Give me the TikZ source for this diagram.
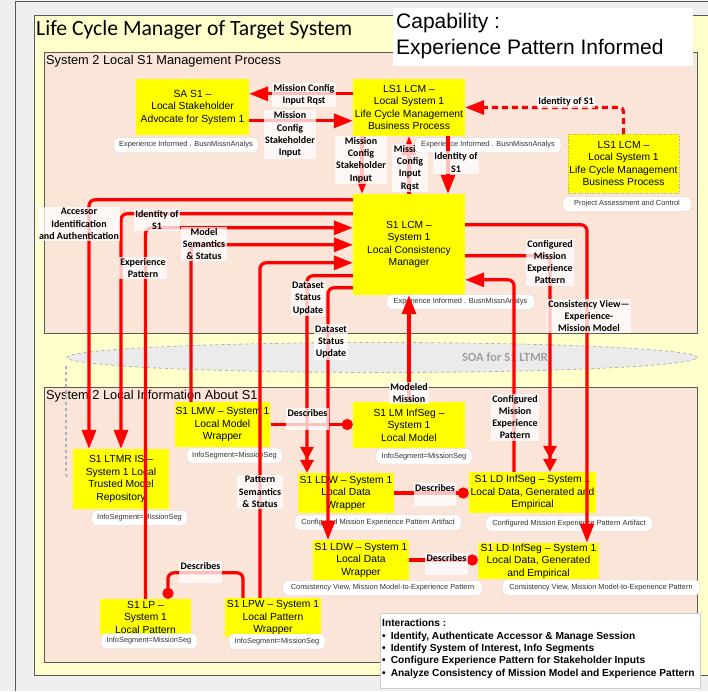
\documentclass[tikz,border=0pt]{standalone}
\usepackage{fontspec}
\setmainfont{Liberation Sans}
\newfontfamily\calfont{Carlito}
\usetikzlibrary{arrows.meta}

\definecolor{redline}{HTML}{FF0000}
\definecolor{boxyellow}{HTML}{FFFF00}
\definecolor{peach}{HTML}{FBE5D8}
\definecolor{paleyellow}{HTML}{FFFFCC}
\definecolor{outergray}{HTML}{EFEFEF}
\definecolor{framegray}{HTML}{595959}
\definecolor{busgray}{HTML}{EBEBEB}

\begin{document}
\begin{tikzpicture}[x=1pt,y=-1pt,
  comp/.style={fill=boxyellow, draw=none, align=center, inner sep=1pt,
    font=\fontsize{10.3}{12.5}\selectfont},
  info/.style={fill=white, draw=gray!35, rounded corners=4pt, inner xsep=3pt,
    minimum height=15pt, text=black!80, font=\fontsize{7.4}{9}\selectfont},
  flow/.style={draw=redline, line width=3.2pt, rounded corners=6pt,
    -{Triangle[length=19pt,width=14pt]}},
  flowtwo/.style={draw=redline, line width=3.2pt, rounded corners=6pt,
    -{Triangle[length=13pt,width=13pt]Triangle[length=13pt,width=13pt]}},
  desc/.style={draw=redline, line width=3.2pt, rounded corners=6pt,
    -{Circle[length=11pt]}},
  lab/.style={fill=white, fill opacity=0.75, text opacity=1, align=center,
    inner sep=1.5pt, font=\calfont\bfseries\fontsize{10}{12.3}\selectfont},
  paneltitle/.style={anchor=base west, inner sep=0pt,
    font=\fontsize{12.8}{15}\selectfont},
]
\useasboundingbox (0,0) rectangle (708,691);

% background, frame and panels
\fill[outergray] (0,0) rectangle (708,691);
\draw[framegray, line width=0.8pt] (15,691) -- (15,1) -- (708,1);
\filldraw[fill=paleyellow, draw=framegray, line width=0.8pt] (34,15) rectangle (712,675);
\node[anchor=base west, inner sep=0pt, font=\calfont\fontsize{21.7}{24}\selectfont]
  (title) at (36,35) {Life Cycle Manager of Target System};

\filldraw[fill=peach, draw=framegray, line width=0.8pt] (44,52) rectangle (697,333);
\node[paneltitle] (mgtitle) at (46,64.5) {System 2 Local S1 Management Process};

% capability caption, lying over the process panel
\fill[white] (393,8) rectangle (693,66);
\node[anchor=north west, align=left, inner sep=0pt, font=\fontsize{21}{25.5}\selectfont]
  (cap) at (396,13.5) {Capability :\\Experience Pattern Informed};

% service bus
\filldraw[fill=busgray, draw=gray!60, dashed, line width=0.8pt]
  (382,357.5) ellipse [x radius=315pt, y radius=15pt];
\node[text=gray!75, font=\calfont\bfseries\fontsize{12.5}{14}\selectfont]
  (soa) at (505,357) {SOA for S1 LTMR};

\filldraw[fill=peach, draw=framegray, line width=0.8pt] (44,387) rectangle (697,662);
\node[paneltitle] (inftitle) at (46,399) {System 2 Local Information About S1};
\draw[gray!60, dashed, line width=1.6pt] (66,366) -- (66,472) .. controls (66,476) .. (69,478);

% components
\node[comp, minimum width=113pt, minimum height=56pt] (sa) at (192.5,107)
  {SA S1 --\\Local Stakeholder\\Advocate for System 1};
\node[comp, minimum width=112pt, minimum height=57pt] (ls1top) at (409,107.5)
  {LS1 LCM --\\Local System 1\\Life Cycle Management\\Business Process};
\node[comp, draw=gray!70, dotted, minimum width=111pt, minimum height=59pt] (ls1right) at (623.5,163.5)
  {LS1 LCM --\\Local System 1\\Life Cycle Management\\Business Process};
\node[comp, minimum width=112pt, minimum height=101pt] (lcm) at (409,244.5)
  {S1 LCM --\\System 1\\Local Consistency\\Manager};
\node[comp, minimum width=95pt, minimum height=45pt] (lmw) at (222.5,424.5)
  {S1 LMW -- System 1\\Local Model\\Wrapper};
\node[comp, minimum width=112pt, minimum height=46pt] (lminf) at (409,425)
  {S1 LM InfSeg --\\System 1\\Local Model};
\node[comp, minimum width=96pt, minimum height=60pt] (ltmr) at (121,479)
  {S1 LTMR IS --\\System 1 Local\\Trusted Model\\Repository};
\node[comp, minimum width=96pt, minimum height=40pt] (ldw1) at (346,493)
  {S1 LDW -- System 1\\Local Data\\Wrapper};
\node[comp, minimum width=127pt, minimum height=41pt] (ldinf1) at (532.5,492.5)
  {S1 LD InfSeg -- System 1\\Local Data, Generated and\\Empirical};
\node[comp, minimum width=96pt, minimum height=40pt] (ldw2) at (361,560)
  {S1 LDW -- System 1\\Local Data\\Wrapper};
\node[comp, minimum width=121pt, minimum height=36pt] (ldinf2) at (538.5,561)
  {S1 LD InfSeg -- System 1\\Local Data, Generated\\and Empirical};
\node[comp, minimum width=91pt, minimum height=36pt] (lp) at (145.5,617)
  {S1 LP --\\System 1\\Local Pattern};
\node[comp, minimum width=96pt, minimum height=39pt] (lpw) at (273,617.5)
  {S1 LPW -- System 1\\Local Pattern\\Wrapper};

% request from the consistency manager to the business process
\draw[flow] (lcm.north) -- (ls1top.south);
\node[lab] (labD) at (410,168) {Mission\\Config\\Input\\Rqst};

% artefact tags
\node[info, minimum width=144pt] (sai) at (186,145) {Experience Informed . BusnMissnAnalys};
\node[info, minimum width=146pt] (ls1i) at (488,145) {Experience Informed . BusnMissnAnalys};
\node[info, minimum width=128pt] (ls1ri) at (627,204) {Project Assessment and Control};
\node[info, minimum width=147pt] (lcmi) at (460.5,302) {Experience Informed . BusnMissnAnalys};
\node[info, minimum width=95pt] (lmwi) at (234.5,455.5) {InfoSegment=MissionSeg};
\node[info, minimum width=96pt] (lminfi) at (424,456.5) {InfoSegment=MissionSeg};
\node[info, minimum width=95pt] (ltmri) at (139.5,518) {InfoSegment=MissionSeg};
\node[info, minimum width=166pt] (ldw1i) at (378,522.5) {Configured Mission Experience Pattern Artifact};
\node[info, minimum width=166pt] (ldinf1i) at (569,523.5) {Configured Mission Experience Pattern Artifact};
\node[info, minimum width=199pt] (ldw2i) at (382.5,588) {Consistency View, Mission Model-to-Experience Pattern};
\node[info, minimum width=197pt] (ldinf2i) at (601,587.5) {Consistency View, Mission Model-to-Experience Pattern};
\node[info, minimum width=96pt] (lpi) at (149,641) {InfoSegment=MissionSeg};
\node[info, minimum width=96pt] (lpwi) at (277,641.5) {InfoSegment=MissionSeg};

% interactions between the management processes
\draw[flow] ([yshift=-15pt]ls1top.north west) -- ([yshift=-15pt]sa.north east);
\draw[flow] ([yshift=-42pt]sa.north east) -- ([yshift=-42pt]ls1top.north west);
\draw[flow] ([xshift=-47pt]ls1top.south) -- ([xshift=-47pt]lcm.north);
\draw[flow] ([xshift=39pt]ls1top.south) -- ([xshift=39pt]lcm.north);
\draw[flow, dash pattern=on 6pt off 4pt, rounded corners=4pt] (ls1right.north) |- (ls1top.east);

% consistency manager to and from the local information
\draw[flow] ([yshift=-6pt]lcm.north west) -| ([xshift=-32pt]ltmr.north);
\draw[flow] ([yshift=-20pt]lcm.north west) -| (ltmr.north);
\draw[flow] (lp.north) |- ([yshift=-34pt]lcm.north west);
\draw[flow] ([xshift=-31.5pt]lmw.north) |- ([yshift=-51pt]lcm.north west);
\draw[flow] ([xshift=-13pt]lpw.north) |- ([yshift=-69pt]lcm.north west);
\draw[flowtwo] ([yshift=-82pt]lcm.north west) -| ([xshift=-39pt]ldw1.north);
\draw[flow] ([yshift=-94pt]lcm.north west) -| ([xshift=-33pt]ldw2.north);
\draw[flow] ([yshift=-31pt]lcm.north east) -| ([xshift=48.5pt]ldinf2.north);
\draw[flowtwo] ([yshift=-62pt]lcm.north east) -| ([xshift=17.5pt]ldinf1.north);
\draw[flow] ([xshift=-18.5pt]ldinf1.north) |- ([yshift=-86pt]lcm.north east);
\draw[flow] (lminf.north) -- (lcm.south);

% wrappers describing their segments
\draw[desc] (lmw.east) -- (lmw.east -| lminf.west);
\draw[desc] (ldw1.east) -- (ldw1.east -| ldinf1.west);
\draw[desc] (ldw2.east) -- (ldw2.east -| ldinf2.west);
\draw[desc] ([xshift=-30pt]lpw.north) |- ([xshift=22.5pt,yshift=26pt]lp.north)
  -- ([xshift=22.5pt]lp.north);

% connector labels
\node[lab] (labA) at (304,95) {Mission Config\\Input Rqst};
\node[lab] (labB) at (290,134.5) {Mission\\Config\\Stakeholder\\Input};
\node[lab] (labC) at (361,160) {Mission\\Config\\Stakeholder\\Input};
\node[lab] (labE) at (456,162.5) {Identity of\\S1};
\node[lab] (labF) at (566,102) {Identity of S1};
\node[lab] (labG) at (79,224) {Accessor\\Identification\\and Authentication};
\node[lab] (labH) at (157,220) {Identity of\\S1};
\node[lab] (labI) at (143,268) {Experience\\Pattern};
\node[lab] (labJ) at (204,244) {Model\\Semantics\\\& Status};
\node[lab] (labK) at (260,492) {Pattern\\Semantics\\\& Status};
\node[lab] (labL) at (308,298.5) {Dataset\\Status\\Update};
\node[lab] (labM) at (331,342) {Dataset\\Status\\Update};
\node[lab] (labN) at (589,316) {Consistency View—\\Experience-\\Mission Model};
\node[lab] (labO) at (550,262) {Configured\\Mission\\Experience\\Pattern};
\node[lab] (labP) at (515,417) {Configured\\Mission\\Experience\\Pattern};
\node[lab] (labQ) at (409,393) {Modeled\\Mission};
\node[lab] (labR) at (307.5,419) {Describes\\~};
\node[lab] (labS) at (435,494.5) {Describes\\~};
\node[lab] (labT) at (446.5,564) {Describes\\~};
\node[lab] (labU) at (200.5,572) {Describes\\~};

% interaction summary
\node[draw=gray!40, fill=white, anchor=north west, minimum width=320pt,
  minimum height=75pt, inner sep=0pt] (inter) at (380,613) {};
\node[anchor=north west, align=left, inner sep=0pt,
  font=\bfseries\fontsize{10.2}{12.4}\selectfont] (intertext) at (382,619)
  {Interactions :\\
   \textbullet\hspace{5pt}Identify, Authenticate Accessor \& Manage Session\\
   \textbullet\hspace{5pt}Identify System of Interest, Info Segments\\
   \textbullet\hspace{5pt}Configure Experience Pattern for Stakeholder Inputs\\
   \textbullet\hspace{5pt}Analyze Consistency of Mission Model and Experience Pattern};
\end{tikzpicture}
\end{document}
